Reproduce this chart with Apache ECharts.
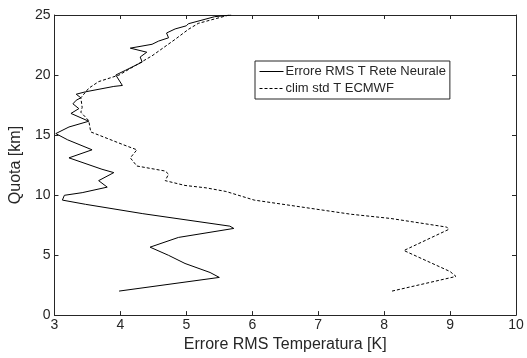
<!DOCTYPE html>
<html>
<head>
<meta charset="utf-8">
<script src="https://cdn.jsdelivr.net/npm/echarts@6/dist/echarts.min.js"></script>
<style>
  html, body { margin: 0; padding: 0; background: #fff; }
  #chart { width: 527px; height: 358px; }
</style>
</head>
<body>
<div id="chart"></div>
<script>
// quota [km] and RMS error [K], bottom to top
var nnHeight = [2.0, 3.14, 3.55, 4.3, 4.98, 5.66, 6.47, 7.22, 7.41, 8.45, 9.23, 9.58, 9.98, 10.2, 10.66, 11.2, 11.87, 12.15, 13.1, 13.77, 14.6, 15.12, 15.67, 16.15, 16.8, 17.2, 17.6, 17.9, 18.1, 18.4, 18.6, 19.05, 19.13, 20.0, 20.4, 21.08, 21.5, 21.9, 22.24, 22.56, 22.83, 23.1, 23.5, 23.84, 24.1, 24.27, 24.86, 25.0];
var nnError  = [3.98, 5.50, 5.36, 4.98, 4.73, 4.45, 4.88, 5.72, 5.66, 4.34, 3.47, 3.12, 3.15, 3.42, 3.80, 3.67, 3.90, 3.72, 3.22, 3.57, 3.20, 3.02, 3.22, 3.52, 3.25, 3.37, 3.28, 3.33, 3.40, 3.33, 3.47, 3.90, 4.03, 3.93, 4.08, 4.33, 4.30, 4.40, 4.15, 4.48, 4.58, 4.73, 4.70, 4.83, 5.00, 5.03, 5.43, 5.68];

var climHeight = [2.0, 3.22, 3.63, 5.38, 7.14, 7.33, 8.05, 8.4, 9.58, 10.3, 10.6, 10.8, 11.2, 11.74, 12.0, 12.42, 13.1, 13.77, 14.18, 15.26, 16.2, 16.9, 17.3, 18.1, 18.9, 19.45, 20.0, 20.8, 21.6, 22.97, 23.8, 24.3, 25.0];
var climStd    = [8.12, 9.09, 9.00, 8.30, 8.98, 8.95, 8.10, 7.50, 6.03, 5.60, 5.30, 4.98, 4.68, 4.73, 4.68, 4.25, 4.15, 4.25, 4.05, 3.55, 3.52, 3.40, 3.42, 3.40, 3.52, 3.67, 3.98, 4.23, 4.48, 4.83, 5.03, 5.18, 5.65];

var xTicks = [3, 4, 5, 6, 7, 8, 9, 10];
var yTicks = [0, 5, 10, 15, 20, 25];

var names = ['Errore RMS T Rete Neurale', 'clim std T ECMWF'];

function pairs(xs, ys) {
  return xs.map(function (x, i) { return [x, ys[i]]; });
}

var chart = echarts.init(document.getElementById('chart'));
var font = 'Liberation Sans';
var ink = '#262626';

var axisBase = {
  type: 'value',
  axisLine: { show: true, onZero: false, lineStyle: { color: ink, width: 1 } },
  axisTick: { show: true, inside: true, length: 4, lineStyle: { color: ink } },
  splitLine: { show: false }
};

var option = {
  animation: false,
  backgroundColor: '#fff',
  textStyle: { fontFamily: font },
  grid: { left: 52, right: 11, top: 15, bottom: 35 },
  legend: {
    data: names,
    orient: 'vertical',
    left: 255,
    top: 61,
    padding: [4, 4, 4, 4],
    itemGap: 4,
    itemWidth: 24,
    itemHeight: 14,
    itemStyle: { opacity: 0 },   // hide the marker, keep the line sample
    lineStyle: { width: 1 },
    borderColor: ink,
    borderWidth: 1,
    borderRadius: 0,
    textStyle: { fontFamily: font, fontSize: 13, color: ink, padding: [0, 0, 0, -3] }
  },
  xAxis: [
    Object.assign({}, axisBase, {
      min: 3, max: 10, interval: 1, position: 'bottom',
      name: 'Errore RMS Temperatura [K]',
      nameLocation: 'middle', nameGap: 21,
      nameTextStyle: { fontFamily: font, fontSize: 16, color: ink },
      axisLabel: { fontFamily: font, fontSize: 14, color: ink, margin: 3,
        formatter: function (v) { return xTicks.indexOf(v) >= 0 ? String(v) : ''; } }
    }),
    Object.assign({}, axisBase, {
      min: 3, max: 10, interval: 1, position: 'top',
      axisLabel: { show: false }
    })
  ],
  yAxis: [
    Object.assign({}, axisBase, {
      min: 0, max: 25, interval: 5, position: 'left',
      name: 'Quota [km]',
      nameLocation: 'middle', nameGap: 26,
      nameTextStyle: { fontFamily: font, fontSize: 16, color: ink },
      axisLabel: { fontFamily: font, fontSize: 14, color: ink, margin: 4,
        formatter: function (v) { return yTicks.indexOf(v) >= 0 ? String(v) : ''; } }
    }),
    Object.assign({}, axisBase, {
      min: 0, max: 25, interval: 5, position: 'right',
      axisLabel: { show: false }
    })
  ],
  series: [
    {
      name: names[0],
      type: 'line',
      data: pairs(nnError, nnHeight),
      showSymbol: false,
      symbol: 'none',
      lineStyle: { color: '#000', width: 1 },
      itemStyle: { color: '#000' }
    },
    {
      name: names[1],
      type: 'line',
      data: pairs(climStd, climHeight),
      showSymbol: false,
      symbol: 'none',
      lineStyle: { color: '#000', width: 1, type: [3, 2] },
      itemStyle: { color: '#000' }
    }
  ]
};

chart.setOption(option);
</script>
</body>
</html>
